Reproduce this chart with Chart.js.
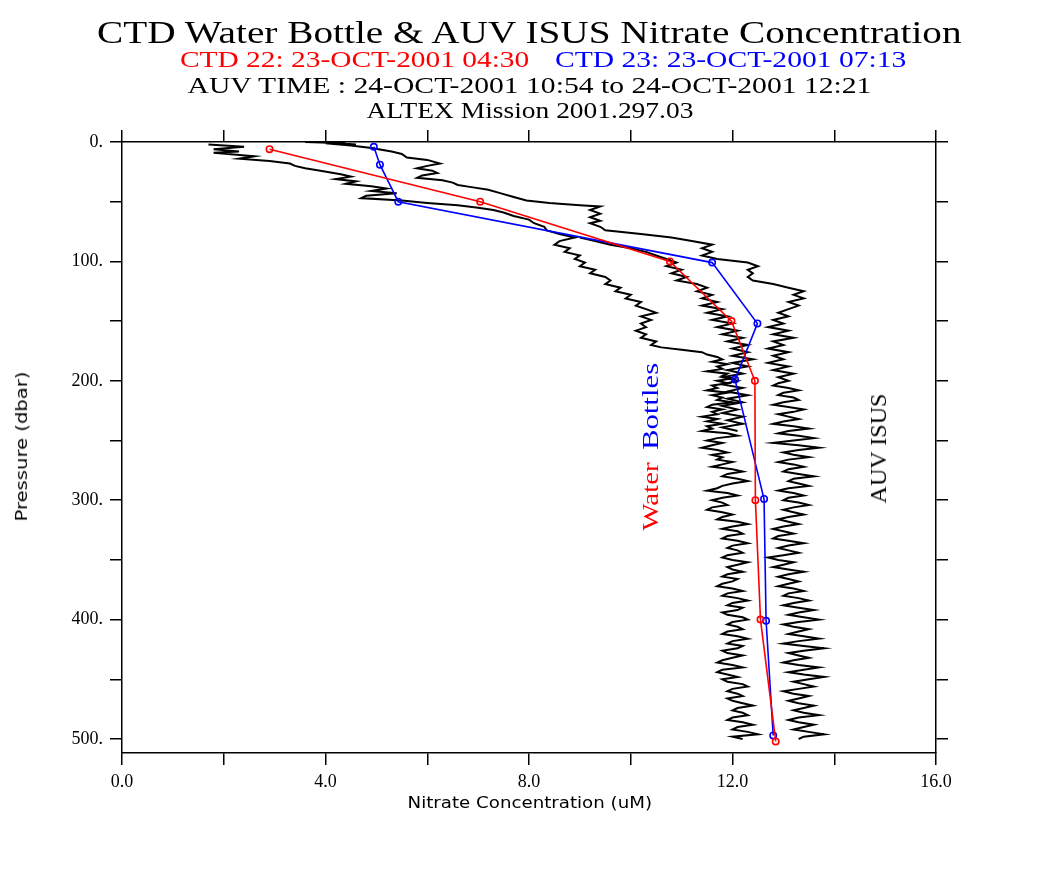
<!DOCTYPE html>
<html>
<head>
<meta charset="utf-8">
<title>CTD Water Bottle & AUV ISUS Nitrate Concentration</title>
<script src="https://cdn.jsdelivr.net/npm/chart.js@4.4.0/dist/chart.umd.min.js"></script>
<style>
html, body { margin: 0; padding: 0; background: #fff; }
#wrap { position: relative; width: 1038px; height: 896px; overflow: hidden; }
#myChart { position: absolute; left: 0; top: 0; }
.lbl { position: absolute; white-space: nowrap; line-height: 1; transform-origin: 50% 50%; }
.serif { font-family: "Liberation Serif", serif; }
.sans { font-family: "DejaVu Sans", sans-serif; }
</style>
</head>
<body>
<div id="wrap">
  <canvas id="myChart" width="1038" height="896"></canvas>

  <div class="lbl serif" data-cx="529.5" data-cy="32" data-w="865" style="font-size:32px">CTD Water Bottle &amp; AUV ISUS Nitrate Concentration</div>
  <div class="lbl serif" data-cx="354.5" data-cy="59" data-w="349" style="font-size:23px;color:#f00">CTD 22: 23-OCT-2001 04:30</div>
  <div class="lbl serif" data-cx="730.5" data-cy="59" data-w="351" style="font-size:23px;color:#00f">CTD 23: 23-OCT-2001 07:13</div>
  <div class="lbl serif" data-cx="529" data-cy="85" data-w="684" style="font-size:23px">AUV TIME : 24-OCT-2001 10:54 to 24-OCT-2001 12:21</div>
  <div class="lbl serif" data-cx="529.5" data-cy="110" data-w="327" style="font-size:23px">ALTEX Mission 2001.297.03</div>

  <div class="lbl sans" data-cx="529.5" data-cy="803" data-w="245" style="font-size:15px">Nitrate Concentration (uM)</div>
  <div class="lbl sans" data-cx="22" data-cy="446" data-w="150" data-rot="-90" style="font-size:15px">Pressure (dbar)</div>

  <div class="lbl serif" data-cx="650" data-cy="496" data-w="68" data-rot="-90" style="font-size:23px;color:#f00">Water</div>
  <div class="lbl serif" data-cx="650" data-cy="406" data-w="87" data-rot="-90" style="font-size:23px;color:#00f">Bottles</div>
  <div class="lbl serif" data-cx="878" data-cy="448" data-w="110" data-rot="-90" style="font-size:23px">AUV ISUS</div>
</div>

<script>
// bottle samples, [pressure dbar, nitrate uM]
const ctd22 = [[6, 2.9], [50, 7.04], [100, 10.77], [150, 11.98], [200, 12.44], [300, 12.45], [400, 12.55], [502, 12.85]];
const ctd23 = [[4, 4.95], [19, 5.07], [50, 5.43], [101, 11.6], [152, 12.49], [199, 12.05], [299, 12.62], [401, 12.66], [497, 12.8]];

// AUV ISUS profiles, [pressure dbar, nitrate uM]
const auvLeft = [
  [2, 1.7], [4, 2.4], [6, 1.8], [8, 2.3], [9, 1.8], [12, 2.6], [14, 2.3], [16, 2.9], [18, 3.3], [20, 3.4],
  [22, 3.6], [24, 3.9], [27, 4.3], [29, 4.5], [31, 4.2], [33, 4.6], [35, 4.4], [37, 4.9], [39, 5.2], [41, 4.9],
  [43, 5.4], [45, 4.8], [47, 4.7], [49, 5.5], [51, 6.0], [53, 6.6], [55, 7.0], [57, 7.3], [59, 7.5], [62, 7.7],
  [65, 8.0], [68, 8.1], [71, 8.3], [74, 8.35], [77, 8.6], [80, 8.9], [83, 8.6], [86, 8.5], [89, 8.8], [92, 8.7],
  [95, 9.0], [98, 8.9], [101, 9.1], [104, 9.0], [107, 9.3], [110, 9.2], [113, 9.5], [116, 9.6], [119, 9.5], [122, 9.8],
  [125, 9.7], [128, 10.0], [131, 9.9], [134, 10.2], [137, 10.1], [140, 10.3], [143, 10.5], [146, 10.2], [149, 10.4], [152, 10.2],
  [155, 10.3], [158, 10.1], [161, 10.3], [164, 10.2], [167, 10.5], [170, 10.4], [172, 10.6], [174, 11.0], [176, 11.4], [178, 11.5],
  [180, 11.7], [182, 11.8], [184, 11.6], [186, 11.9], [188, 11.7], [190, 11.8], [192, 11.5], [194, 11.9], [196, 11.8], [198, 12.0],
  [200, 11.7], [202, 11.9], [204, 11.6], [206, 11.7], [208, 11.5], [210, 11.9], [212, 11.6], [214, 11.8], [216, 11.7], [218, 12.0],
  [220, 11.6], [222, 11.5], [224, 11.8], [226, 11.6], [228, 11.7], [230, 11.4], [232, 11.7], [234, 11.5], [236, 11.8], [238, 11.5],
  [240, 11.6], [242, 11.4], [244, 11.9], [246, 12.1], [248, 11.7], [250, 11.5], [252, 11.8], [254, 11.6], [256, 11.4], [258, 11.7],
  [260, 11.9], [262, 11.6], [264, 11.8], [266, 11.7], [268, 12.0], [270, 11.8], [272, 11.6], [274, 12.0], [276, 12.2], [278, 11.9],
  [280, 11.8], [282, 12.1], [284, 12.3], [286, 12.0], [288, 11.8], [290, 11.7], [292, 11.5], [294, 11.9], [296, 12.1], [298, 11.8],
  [300, 11.6], [302, 11.8], [304, 11.9], [306, 11.6], [308, 11.5], [310, 11.8], [312, 12.0], [314, 11.8], [316, 11.7], [318, 12.1],
  [320, 12.3], [322, 12.0], [324, 11.8], [326, 12.1], [328, 12.2], [330, 11.9], [332, 11.8], [334, 12.1], [336, 12.3], [338, 12.0],
  [340, 11.9], [342, 12.1], [344, 12.2], [346, 11.9], [348, 11.8], [350, 12.0], [352, 12.3], [354, 12.1], [356, 11.9], [358, 12.0],
  [360, 12.2], [362, 11.9], [364, 11.8], [366, 12.1], [368, 12.0], [370, 11.8], [372, 11.7], [374, 12.0], [376, 12.2], [378, 11.9],
  [380, 11.8], [382, 12.1], [384, 12.3], [386, 12.0], [388, 11.9], [390, 12.2], [392, 12.1], [394, 11.8], [396, 11.9], [398, 12.2],
  [400, 12.3], [402, 12.0], [404, 11.9], [406, 12.1], [408, 12.2], [410, 11.9], [412, 11.8], [414, 12.1], [416, 12.3], [418, 12.0],
  [420, 11.9], [422, 12.2], [424, 12.1], [426, 11.8], [428, 11.9], [430, 12.2], [432, 12.0], [434, 11.8], [436, 11.7], [438, 12.0],
  [440, 12.2], [442, 11.8], [444, 11.7], [446, 11.9], [448, 12.1], [450, 11.8], [452, 11.9], [454, 12.2], [456, 12.3], [458, 12.0],
  [460, 11.9], [462, 12.1], [464, 12.2], [466, 11.9], [468, 12.0], [470, 12.2], [472, 12.4], [474, 12.1], [476, 12.0], [478, 12.2],
  [480, 12.3], [482, 12.0], [484, 11.9], [486, 12.2], [488, 12.4], [490, 12.1], [492, 12.0], [494, 12.3], [496, 12.5], [498, 12.0],
  [500, 12.2]
];

const auvRight = [
  [0, 3.6], [1, 4.4], [0, 3.9], [2, 4.6], [1, 4.0], [3, 4.5], [5, 4.9], [8, 5.3], [10, 5.5], [13, 5.6],
  [15, 6.0], [18, 6.25], [20, 6.0], [22, 5.8], [24, 6.1], [26, 6.2], [28, 5.9], [30, 5.8], [32, 6.3], [34, 6.5],
  [36, 6.6], [38, 6.9], [40, 7.2], [43, 7.45], [46, 7.7], [49, 7.95], [51, 8.4], [53, 9.0], [54, 9.4], [57, 9.2],
  [60, 9.4], [63, 9.2], [66, 9.4], [68, 9.2], [71, 9.4], [74, 9.5], [77, 10.2], [80, 10.8], [83, 11.2], [86, 11.6],
  [89, 11.4], [92, 11.6], [95, 11.4], [98, 11.7], [101, 12.3], [104, 12.5], [107, 12.3], [110, 12.4], [113, 12.3], [116, 12.4],
  [119, 12.8], [122, 13.1], [125, 13.4], [128, 13.2], [131, 13.4], [134, 13.1], [137, 13.3], [140, 13.1], [143, 12.9], [146, 13.1],
  [149, 12.8], [152, 13.0], [155, 12.7], [158, 13.1], [161, 12.8], [164, 13.2], [167, 12.8], [170, 13.0], [173, 12.7], [176, 13.1],
  [179, 12.8], [182, 13.0], [185, 12.7], [188, 13.1], [191, 12.8], [194, 13.2], [197, 12.9], [200, 13.1], [202, 12.9], [204, 12.8],
  [206, 13.1], [208, 13.3], [210, 13.0], [212, 12.9], [214, 13.2], [216, 13.3], [218, 13.0], [220, 12.8], [222, 13.1], [224, 13.4],
  [226, 13.2], [228, 12.9], [230, 13.1], [232, 13.3], [234, 13.0], [236, 12.8], [238, 13.2], [240, 13.5], [242, 13.1], [244, 12.9],
  [246, 13.3], [248, 13.6], [250, 13.2], [252, 12.8], [254, 13.3], [256, 13.7], [258, 13.3], [260, 13.0], [262, 13.2], [264, 13.5],
  [266, 13.1], [268, 12.9], [270, 13.2], [272, 13.4], [274, 13.1], [276, 13.0], [278, 13.3], [280, 13.6], [282, 13.2], [284, 13.1],
  [286, 13.3], [288, 13.5], [290, 13.1], [292, 12.9], [294, 13.2], [296, 13.4], [298, 13.1], [300, 13.0], [302, 13.3], [304, 13.5],
  [306, 13.2], [308, 13.0], [310, 13.2], [312, 13.4], [314, 13.1], [316, 12.9], [318, 13.1], [320, 13.3], [322, 13.0], [324, 12.8],
  [326, 13.0], [328, 13.2], [330, 12.9], [332, 12.8], [334, 13.1], [336, 13.4], [338, 13.1], [340, 12.9], [342, 13.1], [344, 13.3],
  [346, 13.0], [348, 12.7], [350, 12.9], [352, 13.2], [354, 13.0], [356, 12.8], [358, 13.1], [360, 13.4], [362, 13.1], [364, 12.9],
  [366, 13.1], [368, 13.3], [370, 13.1], [372, 12.9], [374, 13.2], [376, 13.4], [378, 13.1], [380, 13.0], [382, 13.3], [384, 13.5],
  [386, 13.2], [388, 13.0], [390, 13.3], [392, 13.6], [394, 13.3], [396, 13.1], [398, 13.4], [400, 13.7], [402, 13.3], [404, 13.0],
  [406, 13.2], [408, 13.5], [410, 13.3], [412, 13.1], [414, 13.4], [416, 13.7], [418, 13.3], [420, 13.0], [422, 13.4], [424, 13.8],
  [426, 13.4], [428, 13.1], [430, 13.3], [432, 13.5], [434, 13.2], [436, 13.0], [438, 13.3], [440, 13.7], [442, 13.4], [444, 13.1],
  [446, 13.4], [448, 13.8], [450, 13.5], [452, 13.2], [454, 13.4], [456, 13.6], [458, 13.3], [460, 13.0], [462, 13.2], [464, 13.5],
  [466, 13.3], [468, 13.1], [470, 13.3], [472, 13.6], [474, 13.4], [476, 13.2], [478, 13.4], [480, 13.7], [482, 13.3], [484, 13.1],
  [486, 13.3], [488, 13.6], [490, 13.4], [492, 13.2], [494, 13.5], [496, 13.8], [498, 13.4], [500, 13.3]
];

const auvMiddle = [
  [80, 9.0], [83, 9.3], [86, 9.6], [89, 10.0], [92, 10.3], [95, 10.5], [98, 10.7], [101, 10.9], [104, 10.7], [107, 11.0],
  [110, 10.8], [113, 11.1], [116, 10.9], [119, 11.3], [122, 11.5], [125, 11.3], [128, 11.6], [131, 11.4], [134, 11.7], [137, 11.4],
  [140, 11.8], [143, 11.5], [146, 11.9], [149, 11.6], [152, 12.0], [155, 11.7], [158, 12.1], [161, 11.8], [164, 12.2], [167, 11.9],
  [170, 12.3], [173, 12.0], [176, 12.3], [179, 12.0], [182, 12.4], [185, 12.0], [188, 12.3], [191, 11.9], [194, 12.2], [197, 11.8],
  [200, 12.1], [203, 11.8], [206, 12.2], [209, 11.9], [212, 12.3], [215, 11.9], [218, 12.2], [221, 11.8], [224, 12.1], [227, 11.8],
  [230, 12.2], [233, 11.9], [236, 12.2], [239, 11.8], [242, 12.1]
];

const xMin = 0, xMax = 16;
const pMin = 0, pMax = 511.7;

function pts(list) {
    return list.map(function (d) { return { x: d[1], y: d[0] }; });
}

function bottleSet(list, color) {
    return {
        data: pts(list),
        showLine: true,
        borderColor: color,
        backgroundColor: 'rgba(0,0,0,0)',
        borderWidth: 1.6,
        pointRadius: 3.2,
        pointBorderWidth: 1.6,
        pointStyle: 'circle',
        tension: 0
    };
}

function auvSet(list) {
    return {
        data: pts(list),
        showLine: true,
        borderColor: '#000',
        borderWidth: 2,
        pointRadius: 0,
        tension: 0
    };
}

const gridOpts = { drawOnChartArea: false, drawTicks: true, tickLength: 12, color: '#000', lineWidth: 1.5 };
const borderOpts = { color: '#000', width: 1.5 };
const tickFont = { family: '"Liberation Serif", serif', size: 18 };

function init() {
    document.querySelectorAll('.lbl').forEach(function (el) {
        const w = el.offsetWidth, h = el.offsetHeight;
        const k = +el.dataset.w / w;
        const rot = el.dataset.rot ? 'rotate(' + el.dataset.rot + 'deg) ' : '';
        el.style.left = (el.dataset.cx - w / 2) + 'px';
        el.style.top = (el.dataset.cy - h / 2) + 'px';
        el.style.transform = rot + 'scaleX(' + k + ')';
    });

    const ctx = document.getElementById('myChart');
    new Chart(ctx, {
        type: 'scatter',
        data: {
            datasets: [
                bottleSet(ctd22, '#f00'),
                bottleSet(ctd23, '#00f'),
                auvSet(auvLeft),
                auvSet(auvRight),
                auvSet(auvMiddle)
            ]
        },
        options: {
            responsive: false,
            animation: false,
            devicePixelRatio: 1,
            layout: { padding: { left: 62, right: 90, top: 130, bottom: 103 } },
            plugins: {
                legend: { display: false },
                tooltip: { enabled: false }
            },
            scales: {
                x: {
                    type: 'linear', position: 'bottom', min: xMin, max: xMax,
                    grid: gridOpts, border: borderOpts,
                    ticks: {
                        stepSize: 2, autoSkip: false, maxRotation: 0, padding: 6,
                        color: '#000', font: tickFont,
                        callback: function (v) { return v % 4 === 0 ? v.toFixed(1) : ''; }
                    },
                    afterFit: function (s) { s.height = 40; }
                },
                x2: {
                    type: 'linear', position: 'top', min: xMin, max: xMax,
                    grid: gridOpts, border: borderOpts,
                    ticks: { stepSize: 2, display: false },
                    afterFit: function (s) { s.height = 12; }
                },
                y: {
                    type: 'linear', position: 'left', min: pMin, max: pMax, reverse: true,
                    grid: gridOpts, border: borderOpts,
                    ticks: {
                        stepSize: 50, autoSkip: false, includeBounds: false, padding: 7,
                        color: '#000', font: tickFont,
                        callback: function (v) { return v % 100 === 0 ? v + '.' : ''; }
                    },
                    afterFit: function (s) { s.width = 60; }
                },
                y2: {
                    type: 'linear', position: 'right', min: pMin, max: pMax, reverse: true,
                    grid: gridOpts, border: borderOpts,
                    ticks: { stepSize: 50, display: false, includeBounds: false },
                    afterFit: function (s) { s.width = 12; }
                }
            }
        }
    });
}

window.addEventListener('load', init);
</script>
</body>
</html>
